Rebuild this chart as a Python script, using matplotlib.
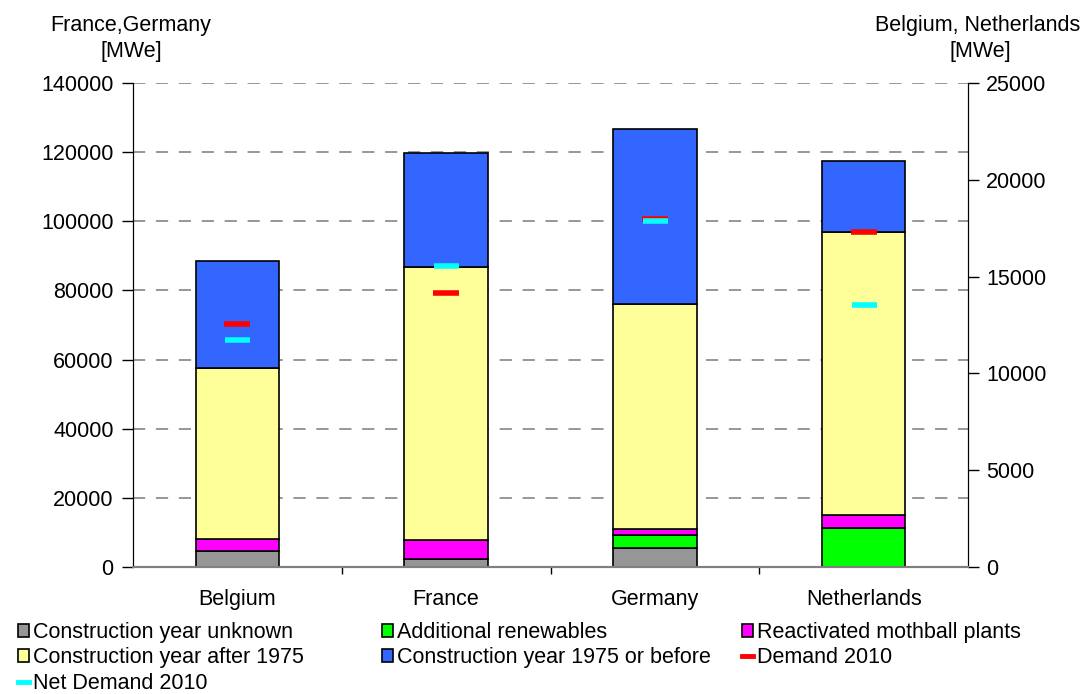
import matplotlib
matplotlib.use("Agg")
import matplotlib.pyplot as plt
from matplotlib.patches import Patch
from matplotlib.lines import Line2D
from matplotlib.ticker import FixedLocator, NullFormatter

plt.rcParams['font.family'] = ['Liberation Sans', 'DejaVu Sans']
FS = 15.5

# Installed capacity per country [MWe]; Belgium and Netherlands read on the right axis
countries = ["Belgium", "France", "Germany", "Netherlands"]
axis_side = ["right", "left", "left", "right"]
year_unknown = [826, 2217, 5496, 0]
renewables = [0, 0, 3760, 2032]
mothball = [636, 5496, 1736, 671]
after_1975 = [8801, 79064, 65178, 14601]
before_1975 = [5543, 32888, 50524, 3667]
demand_2010 = [12567, 79256, 100720, 17287]
net_demand_2010 = [11725, 86970, 100083, 13551]

left_ticks = [0, 20000, 40000, 60000, 80000, 100000, 120000, 140000]
right_ticks = [0, 5000, 10000, 15000, 20000, 25000]

layers = [
    (year_unknown, "#969696", "Construction year unknown"),
    (renewables, "#00FF00", "Additional renewables"),
    (mothball, "#FF00FF", "Reactivated mothball plants"),
    (after_1975, "#FFFF99", "Construction year after 1975"),
    (before_1975, "#3366FF", "Construction year 1975 or before"),
]

W, H = 1085, 694
fig = plt.figure(figsize=(W / 100, H / 100), dpi=100)
ax = fig.add_axes([133 / W, (H - 567) / H, (968 - 133) / W, (567 - 83) / H])
ax2 = ax.twinx()

ax.set_xlim(-0.5, 3.5)
ax.set_ylim(0, 140000)
ax2.set_ylim(0, 25000)
ax.set_yticks(left_ticks)
ax2.set_yticks(right_ticks)
ax.set_yticklabels([str(t) for t in left_ticks], fontsize=FS)
ax2.set_yticklabels([str(t) for t in right_ticks], fontsize=FS)

# dashed horizontal grid behind the bars
ax.set_axisbelow(True)
ax.yaxis.grid(True, color="#7a7a7a", linestyle=(0, (8, 7)), linewidth=1.1)

bar_w = 0.4
for i, name in enumerate(countries):
    target = ax2 if axis_side[i] == "right" else ax
    bottom = 0
    for vals, col, lab in layers:
        v = vals[i]
        if v > 0:
            target.bar(i, v, bar_w, bottom=bottom, color=col,
                       edgecolor="black", linewidth=1.2, zorder=2)
        bottom += v
    target.plot([i], [demand_2010[i]], marker="_", ms=19, mew=4.0,
                color="#FF0000", ls="none", zorder=4)
    target.plot([i], [net_demand_2010[i]], marker="_", ms=18, mew=4.0,
                color="#00FFFF", ls="none", zorder=5)

# category labels on minor ticks, separator ticks between categories
ax.xaxis.set_major_locator(FixedLocator([0.5, 1.5, 2.5]))
ax.xaxis.set_major_formatter(NullFormatter())
ax.xaxis.set_minor_locator(FixedLocator(range(len(countries))))
ax.set_xticklabels(countries, minor=True, fontsize=FS)
ax.tick_params(axis="x", which="major", direction="out", length=5, width=1, color="black")
ax.tick_params(axis="x", which="minor", length=0, pad=15.5)
ax.tick_params(axis="y", direction="out", length=8, width=1, pad=6)
ax2.tick_params(axis="y", direction="out", length=8, width=1, pad=5)

for a in (ax, ax2):
    a.spines["top"].set_visible(False)
    a.spines["left"].set_color("black")
    a.spines["right"].set_color("black")
    a.spines["bottom"].set_color("#808080")
    a.spines["bottom"].set_linewidth(1.5)

fig.text(131 / W, 1 - 26 / H, "France,Germany", ha="center", va="center", fontsize=FS)
fig.text(131 / W, 1 - 52 / H, "[MWe]", ha="center", va="center", fontsize=FS)
fig.text(978 / W, 1 - 26 / H, "Belgium, Netherlands", ha="center", va="center", fontsize=FS)
fig.text(980 / W, 1 - 52 / H, "[MWe]", ha="center", va="center", fontsize=FS)

patch_h = [Patch(facecolor=c, edgecolor="black", linewidth=1.2, label=l) for _, c, l in layers]
dem_h = Line2D([], [], color="#FF0000", lw=3.5, label="Demand 2010")
net_h = Line2D([], [], color="#00FFFF", lw=3.5, label="Net Demand 2010")

columns = [
    ([patch_h[0], patch_h[3], net_h], 18),
    ([patch_h[1], patch_h[4]], 382),
    ([patch_h[2], dem_h], 742),
]
for handles, x0 in columns:
    fig.legend(handles=handles, loc="upper left",
               bbox_to_anchor=(x0 / W, 1 - 622 / H), frameon=False,
               fontsize=FS, handlelength=0.5, handleheight=0.55,
               handletextpad=0.2, labelspacing=0.2, borderpad=0,
               borderaxespad=0)

fig.savefig("out.png", dpi=100)
